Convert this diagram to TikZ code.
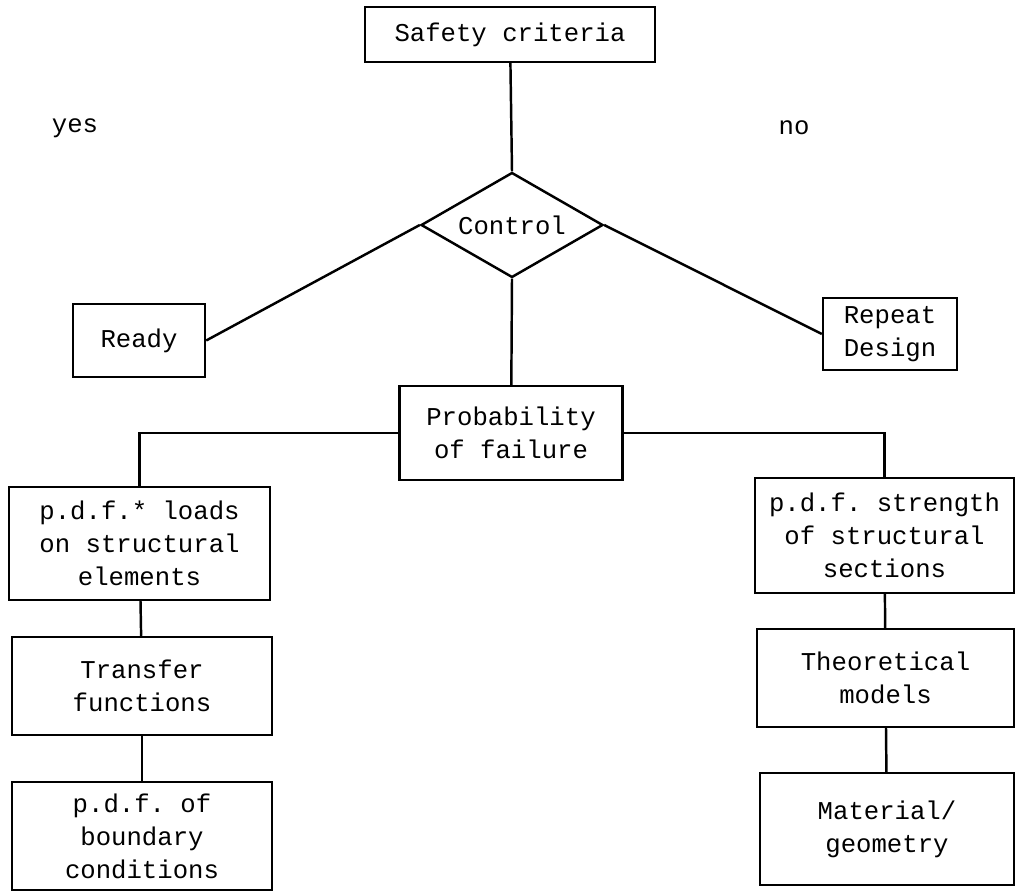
\documentclass[tikz,border=0pt]{standalone}
\usepackage{fontspec}
\setmonofont{Liberation Mono}
\usepackage{tikz}
\usetikzlibrary{positioning, shapes.geometric}

\begin{document}
\begin{tikzpicture}[
  x=0.1mm, y=-0.1mm,
  every node/.style={font=\ttfamily\fontsize{7.3}{9.4}\selectfont, align=center},
  box/.style    ={rectangle, draw, line width=0.7pt, inner sep=2pt},
  test/.style   ={diamond, draw, line width=0.7pt, inner sep=0pt, aspect=1.73, minimum width=18.2mm, minimum height=10.5mm},
  tag/.style    ={inner sep=0pt},
  line width=0.7pt
]
\useasboundingbox (0,0) rectangle (1015,892);

\node[box, minimum width=29mm,   minimum height=5.5mm]  (safety) at (510,34.5) {Safety criteria};
\node[test] (control) at (512,225) {Control};

\node[box, minimum width=13.2mm, minimum height=7.3mm]  (ready)  at (139,340.5) {Ready};
\node[box, minimum width=13.4mm, minimum height=7.2mm]  (repeat) at (890,334)   {Repeat\\Design};

\node[box, minimum width=22.3mm, minimum height=9.4mm]  (prob)   at (511,433)   {Probability\\of failure};

\node[box, minimum width=26.1mm, minimum height=11.3mm] (loads)  at (139.5,543.5) {p.d.f.* loads\\on structural\\elements};
\node[box, minimum width=26mm,   minimum height=9.8mm]  (transf) at (142,686)   {Transfer\\functions};
\node[box, minimum width=26mm,   minimum height=10.8mm] (bound)  at (142,836)   {p.d.f. of\\boundary\\conditions};

\node[box, minimum width=25.9mm, minimum height=11.5mm] (strength) at (884.5,535.5) {p.d.f. strength\\of structural\\sections};
\node[box, minimum width=25.7mm, minimum height=9.8mm]  (theory)   at (885.5,678) {Theoretical\\models};
\node[box, minimum width=25.4mm, minimum height=11.2mm] (mater)    at (887,829)   {Material/\\geometry};

\node[tag] (yes) at (75,128)  {yes};
\node[tag] (no)  at (794,128) {no};

\draw (safety) -- (control.north);
\draw (control.west) -- (ready.east);
\draw (control.east) -- (repeat.west);
\draw (control.south) -- (prob);

\draw (prob.west) -| (loads.north);
\draw (prob.east) -| (strength.north);

\foreach \a/\b in {loads/transf, transf/bound, strength/theory, theory/mater}{
  \draw (\a) -- (\b);
}

\end{tikzpicture}
\end{document}
